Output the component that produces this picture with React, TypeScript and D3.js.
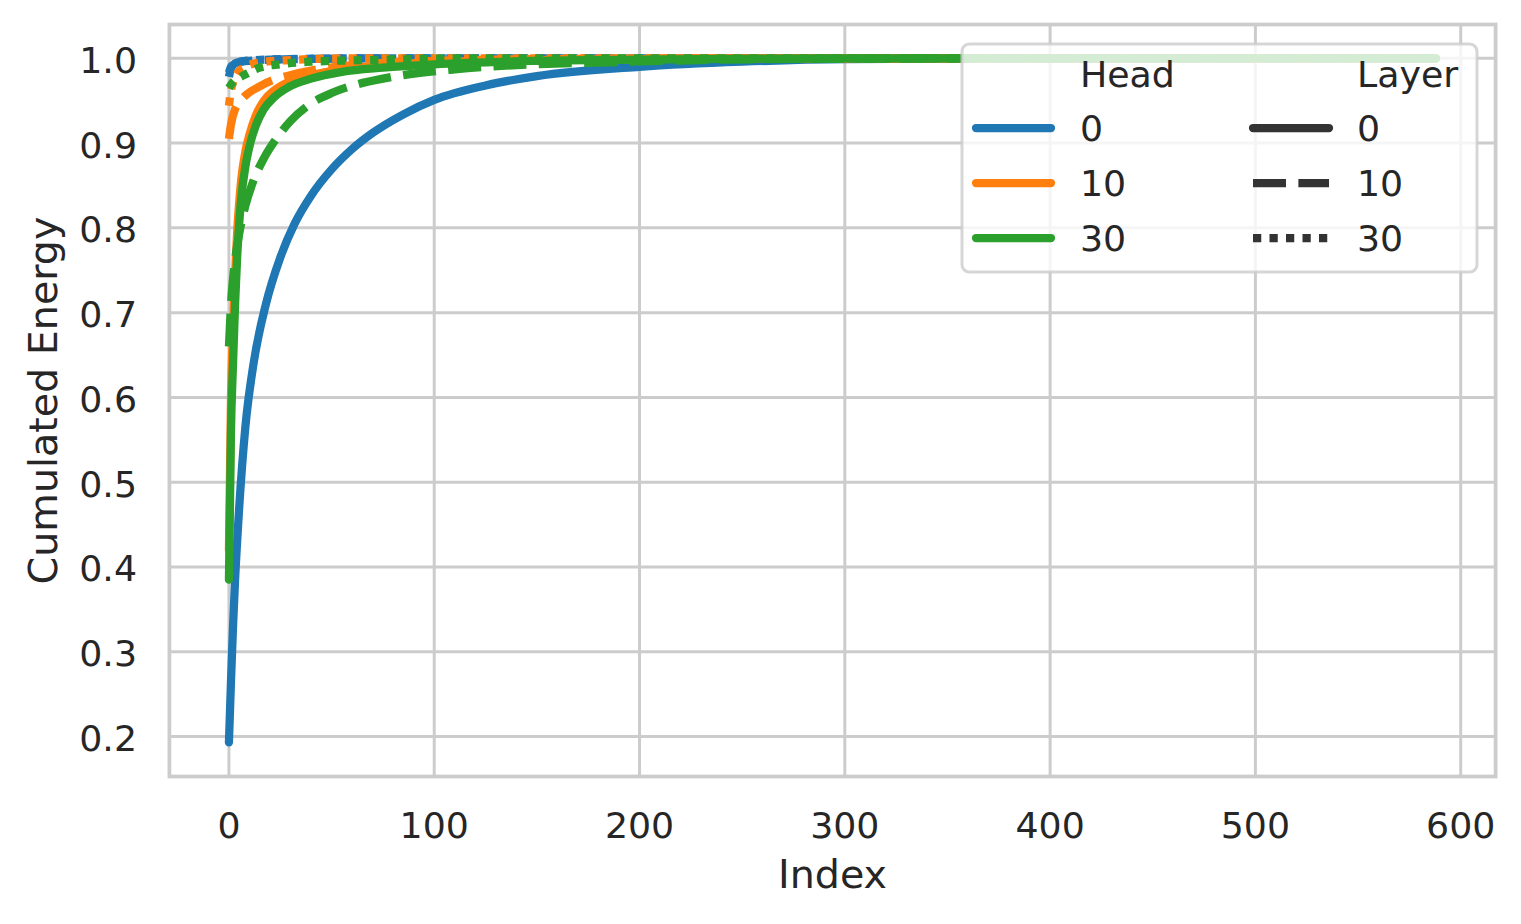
import React from "react";
import * as d3 from "d3";

const W = 1521;
const H = 924;

const headLabels = ["0", "10", "30"];
const layerLabels = ["0", "10", "30"];
const headColors = ["#1f77b4", "#ff7f0e", "#2ca02c"];
const xTicks = [0, 100, 200, 300, 400, 500, 600];
const yTicks = [0.2, 0.3, 0.4, 0.5, 0.6, 0.7, 0.8, 0.9, 1.0];

// [index, cumulated energy]
const h0l0: [number, number][] = [
  [0, 0.193], [1, 0.265], [2, 0.33], [3, 0.385], [5, 0.47], [8, 0.565], [12, 0.64],
  [18, 0.71], [25, 0.765], [32, 0.805], [40, 0.838], [50, 0.869], [60, 0.893], [70, 0.912],
  [85, 0.934], [100, 0.951], [125, 0.968], [150, 0.979], [200, 0.99], [250, 0.996],
  [300, 0.999], [400, 1.0], [588, 1.0],
];
const h0l10: [number, number][] = [
  [0, 0.978], [1, 0.988], [2, 0.992], [4, 0.995], [10, 0.997], [30, 0.999], [80, 1.0], [588, 1.0],
];
const h0l30: [number, number][] = [
  [0, 0.983], [1, 0.99], [3, 0.994], [8, 0.997], [25, 0.999], [70, 1.0], [588, 1.0],
];
const h10l0: [number, number][] = [
  [0, 0.42], [1, 0.6], [2, 0.68], [3, 0.745], [4, 0.795], [5, 0.83], [6, 0.857], [8, 0.89],
  [10, 0.91], [13, 0.932], [17, 0.95], [22, 0.962], [29, 0.972], [40, 0.98], [55, 0.987],
  [75, 0.992], [100, 0.995], [150, 0.998], [250, 1.0], [588, 1.0],
];
const h10l10: [number, number][] = [
  [0, 0.905], [1, 0.922], [3, 0.94], [6, 0.951], [9, 0.958], [15, 0.967], [21, 0.974],
  [28, 0.979], [43, 0.987], [60, 0.992], [100, 0.997], [150, 0.999], [250, 1.0], [588, 1.0],
];
const h10l30: [number, number][] = [
  [0, 0.944], [1, 0.962], [2, 0.972], [4, 0.982], [8, 0.99], [15, 0.995], [30, 0.998], [60, 1.0], [588, 1.0],
];
const h30l0: [number, number][] = [
  [0, 0.385], [1, 0.56], [2, 0.64], [3, 0.71], [4, 0.765], [5, 0.805], [6, 0.835], [8, 0.872],
  [10, 0.896], [13, 0.92], [17, 0.94], [22, 0.954], [29, 0.966], [40, 0.976], [55, 0.984],
  [75, 0.989], [100, 0.993], [150, 0.997], [200, 0.9985], [300, 1.0], [588, 1.0],
];
const h30l10: [number, number][] = [
  [0, 0.66], [1, 0.71], [2, 0.74], [3, 0.762], [5, 0.793], [8, 0.826], [12, 0.856], [17, 0.882],
  [23, 0.905], [30, 0.926], [39, 0.945], [50, 0.959], [62, 0.969], [75, 0.976], [90, 0.982],
  [110, 0.987], [140, 0.992], [180, 0.995], [230, 0.998], [300, 0.9995], [400, 1.0], [588, 1.0],
];
const h30l30: [number, number][] = [
  [0, 0.965], [2, 0.972], [5, 0.977], [8, 0.981], [15, 0.989], [25, 0.993], [40, 0.996],
  [70, 0.998], [120, 1.0], [588, 1.0],
];

const seriesList = [
  { head: 0, layer: 0, data: h0l0 },
  { head: 0, layer: 1, data: h0l10 },
  { head: 0, layer: 2, data: h0l30 },
  { head: 1, layer: 0, data: h10l0 },
  { head: 1, layer: 1, data: h10l10 },
  { head: 1, layer: 2, data: h10l30 },
  { head: 2, layer: 0, data: h30l0 },
  { head: 2, layer: 1, data: h30l10 },
  { head: 2, layer: 2, data: h30l30 },
];

const LW = 8.25;
const dashes = [null, `${4 * LW},${1.5 * LW}`, `${LW},${LW}`];
const TEXT = "#262626";
const GRID = "#cccccc";
const FONT = "DejaVu Sans";

export default function App() {
  const x = d3.scaleLinear().domain([-29, 617]).range([169.4, 1495.6]);
  const y = d3.scaleLinear().domain([0.1528, 1.0399]).range([776.5, 24.5]);
  const line = d3
    .line<[number, number]>()
    .x((d) => x(d[0]))
    .y((d) => y(d[1]))
    .curve(d3.curveMonotoneX);

  const [x0, x1] = x.range();
  const [yb, yt] = y.range();

  // legend geometry
  const lgX = 962, lgY = 44, lgW = 515, lgH = 228;
  const col1Handle = [976, 1051];
  const col2Handle = [1253, 1329];
  const col1Text = 1080;
  const col2Text = 1357;
  const rowY = [74, 128, 183, 238];
  const fs = 36.3;

  return (
    <svg
      width={W}
      height={H}
      style={{ position: "absolute", left: 0, top: 0, background: "#ffffff" }}
      fontFamily={FONT}
    >
      <rect x={0} y={0} width={W} height={H} fill="#ffffff" />
      {/* grid */}
      {xTicks.map((t) => (
        <line key={"gx" + t} x1={x(t)} x2={x(t)} y1={yt} y2={yb} stroke={GRID} strokeWidth={3} />
      ))}
      {yTicks.map((t) => (
        <line key={"gy" + t} x1={x0} x2={x1} y1={y(t)} y2={y(t)} stroke={GRID} strokeWidth={3} />
      ))}
      {/* spines */}
      <rect x={x0} y={yt} width={x1 - x0} height={yb - yt} fill="none" stroke={GRID} strokeWidth={3.75} />

      {/* lines */}
      {seriesList.map((s, i) => (
        <path
          key={"s" + i}
          d={line(s.data) || ""}
          fill="none"
          stroke={headColors[s.head]}
          strokeWidth={LW}
          strokeDasharray={dashes[s.layer] || undefined}
          strokeLinecap={s.layer === 0 ? "round" : "butt"}
          strokeLinejoin="round"
        />
      ))}

      {/* tick labels */}
      {xTicks.map((t) => (
        <text key={"tx" + t} x={x(t)} y={838} textAnchor="middle" fontSize={fs} fill={TEXT}>
          {t}
        </text>
      ))}
      {yTicks.map((t) => (
        <text key={"ty" + t} x={137} y={y(t) + 14.5} textAnchor="end" fontSize={fs} fill={TEXT}>
          {t.toFixed(1)}
        </text>
      ))}

      {/* axis labels */}
      <text x={(x0 + x1) / 2} y={888} textAnchor="middle" fontSize={39.6} fill={TEXT}>
        Index
      </text>
      <text
        transform={`translate(56.5, ${(yt + yb) / 2}) rotate(-90)`}
        textAnchor="middle"
        fontSize={39.6}
        fill={TEXT}
      >
        Cumulated Energy
      </text>

      {/* legend */}
      <rect
        x={lgX}
        y={lgY}
        width={lgW}
        height={lgH}
        rx={7.3}
        ry={7.3}
        fill="#ffffff"
        fillOpacity={0.8}
        stroke={GRID}
        strokeOpacity={0.8}
        strokeWidth={3}
      />
      <text x={col1Text} y={rowY[0]} dominantBaseline="central" fontSize={fs} fill={TEXT}>
        Head
      </text>
      <text x={col2Text} y={rowY[0]} dominantBaseline="central" fontSize={fs} fill={TEXT}>
        Layer
      </text>
      {headLabels.map((h, i) => (
        <g key={"lh" + h}>
          <line
            x1={col1Handle[0]}
            x2={col1Handle[1]}
            y1={rowY[i + 1]}
            y2={rowY[i + 1]}
            stroke={headColors[i]}
            strokeWidth={LW}
            strokeLinecap="round"
          />
          <text x={col1Text} y={rowY[i + 1]} dominantBaseline="central" fontSize={fs} fill={TEXT}>
            {h}
          </text>
        </g>
      ))}
      {layerLabels.map((l, i) => (
        <g key={"ll" + l}>
          <line
            x1={col2Handle[0]}
            x2={col2Handle[1]}
            y1={rowY[i + 1]}
            y2={rowY[i + 1]}
            stroke="#333333"
            strokeWidth={LW}
            strokeDasharray={dashes[i] || undefined}
            strokeLinecap={i === 0 ? "round" : "butt"}
          />
          <text x={col2Text} y={rowY[i + 1]} dominantBaseline="central" fontSize={fs} fill={TEXT}>
            {l}
          </text>
        </g>
      ))}
    </svg>
  );
}
